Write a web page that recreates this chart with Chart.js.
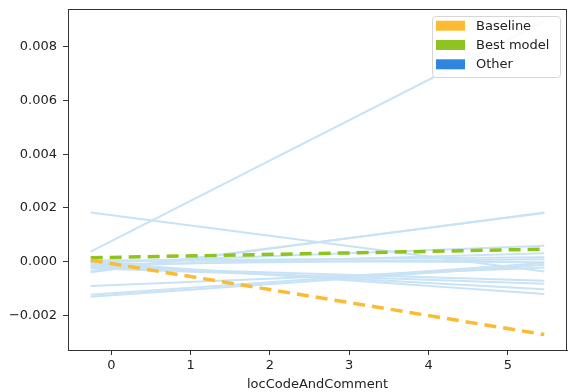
<!DOCTYPE html>
<html>
<head>
<meta charset="utf-8">
<script src="https://cdn.jsdelivr.net/npm/chart.js@4/dist/chart.umd.min.js"></script>
<style>
html,body{margin:0;padding:0;background:#fff;}
#wrap{width:568px;height:392px;position:relative;}
</style>
</head>
<body>
<div id="wrap"><canvas id="c" width="568" height="392"></canvas></div>
<script>
// x positions where each line starts and ends
const xEnds = [-0.26, 5.46];
// Baseline and best model (start, end)
const baseline = [0.00005, -0.00272];
const bestModel = [0.00014, 0.00046];
// Other models (start, end)
const others = [
  [0.00037, 0.00896],
  [0.00183, -0.00037],
  [-0.00040, 0.00183],
  [-0.00036, 0.00181],
  [-0.00005, 0.00059],
  [-0.00018, 0.00031],
  [0.00002, 0.00016],
  [-0.00010, 0.00009],
  [-0.00124, -0.00005],
  [-0.00131, -0.00012],
  [-0.00091, -0.00022],
  [-0.00003, -0.00121],
  [-0.00012, -0.00103],
  [-0.00025, -0.00083],
  [-0.00020, -0.00072],
  [0.00005, -0.00003]
];
const yTicks = [-0.002, 0.000, 0.002, 0.004, 0.006, 0.008];
const xTicks = [0, 1, 2, 3, 4, 5];
const xTitle = 'locCodeAndComment';
const legendLabels = ['Baseline', 'Best model', 'Other'];

const C_BASE = '#fbbc33';
const C_BEST = '#8fc31f';
const C_OTHER_LEG = '#2e86e0';
const C_OTHER = '#c9e3f6';
const FONT = 'DejaVu Sans';

function pts(arr){ return arr.map((v,i)=>({x:xEnds[i], y:v})); }

const datasets = [
  {label:legendLabels[0], data:pts(baseline), borderColor:C_BASE, borderWidth:3.5, borderDash:[12,7], pointRadius:0, fill:false},
  {label:legendLabels[1], data:pts(bestModel), borderColor:C_BEST, borderWidth:3.5, borderDash:[12,7], pointRadius:0, fill:false}
];
others.forEach(o=>datasets.push({label:legendLabels[2], data:pts(o), borderColor:C_OTHER, borderWidth:2, pointRadius:0, fill:false}));

const frame = {
  id:'frame',
  afterDraw(chart){
    const ctx = chart.ctx, a = chart.chartArea;
    ctx.save();
    ctx.strokeStyle = '#333';
    ctx.lineWidth = 1;
    ctx.strokeRect(Math.round(a.left)+0.5, Math.round(a.top)+0.5, Math.round(a.right-a.left)-1, Math.round(a.bottom-a.top));
    // legend
    const bx = 432, by = 16, bw = 128, bh = 61;
    ctx.fillStyle = 'rgba(255,255,255,0.85)';
    ctx.strokeStyle = '#d6d6d6';
    ctx.beginPath();
    if (ctx.roundRect) ctx.roundRect(bx+0.5, by+0.5, bw, bh, 3); else ctx.rect(bx+0.5,by+0.5,bw,bh);
    ctx.fill(); ctx.stroke();
    const cols = [C_BASE, C_BEST, C_OTHER_LEG];
    ctx.font = '13px "' + FONT + '"';
    ctx.textBaseline = 'middle';
    ctx.textAlign = 'left';
    for (let i=0;i<3;i++){
      const cy = 25.7 + i*19.3;
      ctx.fillStyle = cols[i];
      ctx.fillRect(436, cy-5, 29, 10);
      ctx.fillStyle = '#222';
      ctx.fillText(legendLabels[i], 476, cy+0.5);
    }
    ctx.restore();
  }
};

new Chart(document.getElementById('c'), {
  type:'line',
  data:{datasets},
  options:{
    responsive:false,
    animation:false,
    layout:{padding:{top:9,right:1,left:0,bottom:0}},
    plugins:{legend:{display:false}, tooltip:{enabled:false}},
    scales:{
      x:{
        type:'linear', min:-0.546, max:5.746,
        afterBuildTicks(s){ s.ticks = xTicks.map(v=>({value:v})); },
        afterFit(s){ s.height = 42; s.paddingLeft = 0; s.paddingRight = 0; },
        grid:{drawOnChartArea:false, drawTicks:true, tickLength:5, color:'#333'},
        border:{display:true, color:'#333'},
        ticks:{color:'#222', font:{family:FONT,size:13}, padding:3, maxRotation:0, autoSkip:false, callback:v=>String(v)},
        title:{display:true, text:xTitle, color:'#222', font:{family:FONT,size:13}, padding:{top:2,bottom:0}}
      },
      y:{
        type:'linear', min:-0.003295, max:0.009407,
        afterBuildTicks(s){ s.ticks = yTicks.map(v=>({value:v})); },
        afterFit(s){ s.width = 68; s.paddingTop = 0; s.paddingBottom = 0; },
        grid:{drawOnChartArea:false, drawTicks:true, tickLength:5, color:'#333'},
        border:{display:true, color:'#333'},
        ticks:{color:'#222', font:{family:FONT,size:13}, padding:6, autoSkip:false,
          callback:v=>(v<0?'\u2212':'')+Math.abs(v).toFixed(3)}
      }
    }
  },
  plugins:[frame]
});
</script>
</body>
</html>
